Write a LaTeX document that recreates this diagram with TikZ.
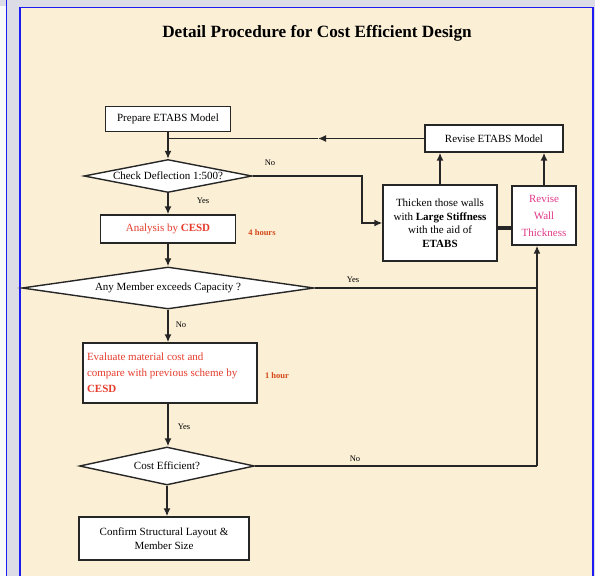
\documentclass[tikz,border=0pt]{standalone}
\usepackage{fontspec}
\setmainfont{Liberation Serif}
\usetikzlibrary{shapes.geometric,arrows.meta}

\definecolor{paper}{HTML}{FBEFD6}
\definecolor{slide}{HTML}{DCDCE6}
\definecolor{frame}{HTML}{1C1CF2}
\definecolor{ink}{HTML}{262626}
\definecolor{cesd}{HTML}{E63C2C}
\definecolor{hrs}{HTML}{D44A1A}
\definecolor{wall}{HTML}{E03A88}

\tikzset{
	box/.style={draw=ink, fill=white, line width=1.4pt, inner sep=1pt, align=center, font=\fontsize{11}{13.5}\selectfont},
	choice/.style={draw=ink, fill=white, line width=1.4pt, diamond, inner sep=0pt, font=\fontsize{11}{13}\selectfont},
	lbl/.style={font=\fontsize{8.5}{10}\selectfont},
	link/.style={draw=ink, line width=1.5pt},
	>={Latex[length=8pt,width=7pt]}
}

\begin{document}
\begin{tikzpicture}[x=1pt,y=-1pt]
	\useasboundingbox (0,0) rectangle (595,576);
	\fill[slide] (0,0) rectangle (595,576);
	\fill[white!85!slide] (0,6) rectangle (6,576);
	\draw[frame, line width=1pt] (6,0) -- (6,576);
	\filldraw[fill=paper, draw=frame, line width=1.6pt] (20,7.5) rectangle (593,590);

	\node (title) at (317,33) {\fontsize{17.2}{19}\selectfont\bfseries Detail Procedure for Cost Efficient Design};

	\node[box, minimum width=125, minimum height=25] (prep) at (168,119) {Prepare ETABS Model};
	\node[choice, aspect=5.2, minimum width=168, minimum height=33] (chk) at (168,176) {Check Deflection 1:500?};
	\node[box, text=cesd, minimum width=135, minimum height=28] (ana) at (168,229) {Analysis by \textbf{CESD}};
	\node[lbl, text=hrs] (h4) at (262,233) {\textbf{4 hours}};
	\node[choice, aspect=7.2, minimum width=292, minimum height=42] (anym) at (168,288) {Any Member exceeds Capacity ?};
	\node[box, text=cesd, font=\fontsize{11}{16}\selectfont, align=flush left, text width=166, inner xsep=4pt, minimum height=60] (eval) at (170,373) {Evaluate material cost and\\compare with previous scheme by\\\textbf{CESD}};
	\node[lbl, text=hrs] (h1) at (277,376) {\textbf{1 hour}};
	\node[choice, aspect=4.6, minimum width=175, minimum height=38] (cost) at (167,466) {Cost Efficient?};
	\node[box, minimum width=170, minimum height=43] (conf) at (164,538.5) {Confirm Structural Layout \&\\Member Size};

	\node[box, minimum width=138, minimum height=27] (rev) at (494,138.5) {Revise ETABS Model};
	\node[box, minimum width=114, minimum height=76] (thk) at (440,223) {Thicken those walls\\with \textbf{Large Stiffness}\\with the aid of\\\textbf{ETABS}};
	\node[box, text=wall, font=\fontsize{11}{17}\selectfont, minimum width=64, minimum height=59] (wall) at (544,215.5) {Revise\\Wall\\Thickness};

	\node[lbl] (no1) at (270,163) {No};
	\node[lbl] (yes1) at (203,201) {Yes};
	\node[lbl] (yes2) at (353,280) {Yes};
	\node[lbl] (no2) at (181,325) {No};
	\node[lbl] (yes3) at (184,427) {Yes};
	\node[lbl] (no3) at (355,459) {No};

	\coordinate (j1) at (168,138.5);
	\coordinate (mid) at (318,138.5);
	\coordinate (k1) at (362,176);
	\coordinate (r1) at (537,288);
	\coordinate (r2) at (537,466);
	\coordinate (tw) at (505,228);

	\draw[link,->] (prep) -- (chk);
	\draw[link,->] (rev) -- (mid);
	\draw[link] (mid) -- (j1);
	\draw[link,->] (chk.east) -- (k1) |- (thk.west);
	\draw[link,->] (chk) -- (ana);
	\draw[link,->] (ana) -- (anym);
	\draw[link] (anym.east) -- (r1);
	\draw[link] (cost.east) -- (r2);
	\draw[link,->] (r2) -- (r1) -- (r1 |- wall.south);
	\draw[link,->] (anym) -- (anym.south |- eval.north);
	\draw[link,->] (anym.south |- eval.south) -- (anym.south |- cost.north);
	\draw[link,->] (cost) -- (cost.south |- conf.north);
	\draw[link,->] (thk.north) -- (thk.north |- rev.south);
	\draw[link,->] (wall.north) -- (wall.north |- rev.south);
	\draw[ink, line width=3.5pt] (thk.east |- tw) -- (wall.west |- tw);
\end{tikzpicture}
\end{document}
